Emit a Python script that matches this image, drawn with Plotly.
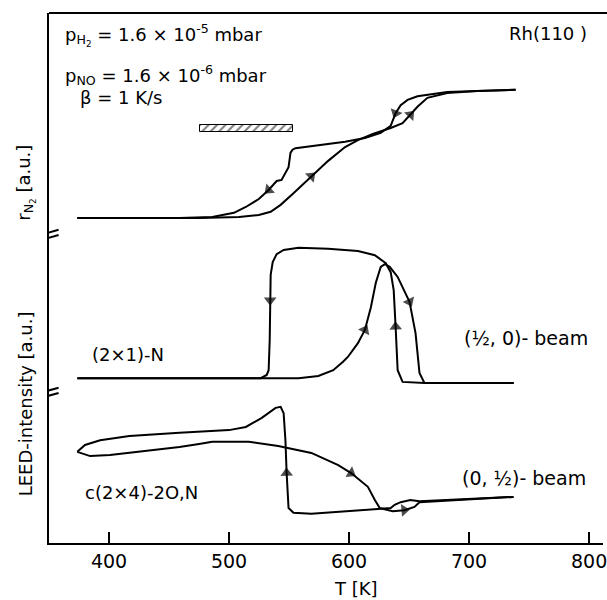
import plotly.graph_objects as go

# ---------------- data (T in K, signal in arbitrary units with offsets) ----------------
# r_N2 (N2 production rate), heating branch
TOP_HEAT_T = [373.6, 475.2, 508.3, 524.8, 534.7, 543.0, 553.7, 568.6, 582.6, 596.7, 607.4,
              619.8, 634.7, 644.6, 651.2, 657.0, 665.3, 681.8, 706.6, 738.8]
TOP_HEAT_V = [61.3, 61.3, 61.5, 61.9, 62.5, 63.8, 66.0, 69.2, 72.1, 74.7, 76.0,
              77.2, 78.3, 79.2, 80.8, 82.3, 84.0, 84.9, 85.3, 85.5]
# r_N2, cooling branch
TOP_COOL_T = [373.6, 458.7, 486.0, 504.1, 514.0, 524.8, 533.0, 539.7, 543.8, 549.6, 551.2,
              552.9, 555.4, 562.0, 582.6, 596.7, 613.2, 626.4, 634.7, 638.8, 643.0, 648.8,
              657.0, 669.4, 681.8, 706.6, 738.8]
TOP_COOL_V = [61.3, 61.3, 61.5, 62.3, 63.4, 64.9, 66.6, 68.3, 68.5, 70.9, 73.6,
              74.2, 74.5, 74.7, 75.3, 75.7, 76.4, 77.4, 78.7, 81.1, 82.6, 83.6,
              84.3, 84.7, 85.1, 85.3, 85.5]

# LEED (1/2,0) beam, (2x1)-N, heating branch
MID_HEAT_T = [373.6, 557.9, 574.4, 586.8, 595.0, 599.0, 607.4, 613.2, 618.2, 622.3, 626.4,
              629.8, 633.9, 640.5, 650.4, 655.4, 658.7, 662.8, 737.2]
MID_HEAT_V = [31.1, 31.1, 31.5, 32.6, 34.2, 35.1, 37.7, 40.2, 44.5, 49.1, 52.1,
              52.6, 52.1, 50.2, 45.5, 39.6, 32.1, 30.2, 30.2]
# (1/2,0) beam, cooling branch
MID_COOL_T = [373.6, 526.4, 531.4, 533.0, 533.9, 534.3, 534.7, 536.4, 539.7, 545.5, 557.9,
              582.6, 599.0, 607.4, 621.5, 630.6, 634.7, 637.2, 638.8, 640.5, 644.6, 662.8, 737.2]
MID_COOL_V = [31.1, 31.1, 31.7, 32.6, 38.3, 45.8, 50.6, 53.0, 54.5, 55.3, 55.7,
              55.5, 55.3, 55.1, 54.3, 52.8, 51.1, 47.7, 40.8, 32.6, 30.4, 30.2, 30.2]

# LEED (0,1/2) beam, c(2x4)-2O,N, heating branch
BOT_HEAT_T = [373.6, 384.3, 400.8, 434.0, 458.7, 475.0, 486.0, 516.5, 541.0, 568.6, 591.0,
              601.7, 615.7, 621.5, 625.6, 636.4, 646.0, 654.5, 658.7, 737.0]
BOT_HEAT_V = [17.2, 16.4, 16.6, 17.4, 18.1, 18.7, 19.1, 19.1, 18.3, 17.0, 14.7,
              13.2, 10.6, 8.1, 6.6, 6.0, 6.2, 6.8, 7.7, 8.7]
# (0,1/2) beam, cooling branch
BOT_COOL_T = [373.6, 380.0, 392.6, 417.0, 458.7, 500.0, 514.0, 527.3, 538.8, 543.0, 545.5,
              547.0, 548.0, 549.6, 553.7, 568.6, 624.0, 634.7, 638.0, 643.0, 651.0, 658.7, 737.0]
BOT_COOL_V = [17.2, 18.5, 19.4, 20.2, 20.8, 21.3, 21.9, 23.6, 25.5, 25.7, 24.5,
              19.4, 13.2, 6.6, 5.7, 5.5, 6.4, 6.6, 7.2, 7.7, 8.1, 7.9, 8.7]

# arrow positions (temperatures of points carrying an arrow head)
TOP_HEAT_ARROWS = [568.6, 651.2]
TOP_COOL_ARROWS = [533.0, 638.8]
MID_HEAT_ARROWS = [613.2, 650.4]
MID_COOL_ARROWS = [534.3, 638.8]
BOT_HEAT_ARROWS = [601.7, 646.0]
BOT_COOL_ARROWS = [548.0]

# hatched bar (temperature interval)
BAR_T_START = 476.0
BAR_T_END = 553.7
BAR_LEVEL = 78.2

X_TICKS = [400, 500, 600, 700, 800]

FONT = "DejaVu Sans"

fig = go.Figure()


def branch(T, V, arrows, heating):
    sizes = [11 if any(abs(t - a) < 0.05 for a in arrows) else 0 for t in T]
    fig.add_trace(go.Scatter(
        x=T, y=V, mode="lines+markers",
        line=dict(color="black", width=2),
        marker=dict(size=sizes, color="black",
                    symbol="triangle-up" if heating else "triangle-down",
                    angleref="previous", line=dict(width=0)),
        showlegend=False, hoverinfo="skip"))


branch(TOP_HEAT_T, TOP_HEAT_V, TOP_HEAT_ARROWS, True)
branch(TOP_COOL_T, TOP_COOL_V, TOP_COOL_ARROWS, False)
branch(MID_HEAT_T, MID_HEAT_V, MID_HEAT_ARROWS, True)
branch(MID_COOL_T, MID_COOL_V, MID_COOL_ARROWS, False)
branch(BOT_HEAT_T, BOT_HEAT_V, BOT_HEAT_ARROWS, True)
branch(BOT_COOL_T, BOT_COOL_V, BOT_COOL_ARROWS, False)

# hatched bar
fig.add_trace(go.Bar(
    x=[BAR_T_END - BAR_T_START], base=[BAR_T_START], y=[BAR_LEVEL], width=[1.3],
    orientation="h",
    marker=dict(color="white", line=dict(color="black", width=1),
                pattern=dict(shape="/", fgcolor="black", bgcolor="white", size=6, solidity=0.35)),
    showlegend=False, hoverinfo="skip"))

# axis break marks on the left axis
for yb in [57.6, 27.8]:
    for d in [0.0, 1.0]:
        fig.add_shape(type="line", xref="x", yref="y",
                      x0=342, x1=358, y0=yb - 0.5 + d, y1=yb + 0.5 + d,
                      line=dict(color="black", width=2))

# top frame line
fig.add_shape(type="line", xref="paper", yref="paper", x0=0, x1=1.05, y0=1, y1=1,
              line=dict(color="black", width=2))

ann = dict(showarrow=False)
texts = [
    (361.6, 95.8, "p<sub>H<sub>2</sub></sub> = 1.6 × 10<sup>-5</sup> mbar", 18),
    (361.6, 88.3, "p<sub>NO</sub> = 1.6 × 10<sup>-6</sup> mbar", 18),
    (374.0, 84.1, "β = 1 K/s", 18),
    (732.0, 96.2, "Rh(110 )", 18),
    (383.9, 35.5, "(2×1)-N", 18),
    (694.0, 38.7, "(½, 0)- beam", 19),
    (692.4, 12.3, "(0, ½)- beam", 19),
    (378.0, 9.6, "c(2×4)-2O,N", 18),
]
for x, y, t, fs in texts:
    fig.add_annotation(x=x, y=y, xref="x", yref="y", text=t, xanchor="left", yanchor="middle",
                       font=dict(family=FONT, size=fs, color="black"), **ann)

fig.add_annotation(x=-0.043, y=0.68, xref="paper", yref="paper", text="r<sub>N<sub>2</sub></sub> [a.u.]",
                   textangle=-90, xanchor="center", yanchor="middle",
                   font=dict(family=FONT, size=18, color="black"), **ann)
fig.add_annotation(x=-0.043, y=0.262, xref="paper", yref="paper", text="LEED-intensity [a.u.]",
                   textangle=-90, xanchor="center", yanchor="middle",
                   font=dict(family=FONT, size=18, color="black"), **ann)
fig.add_annotation(x=0.555, y=-0.085, xref="paper", yref="paper", text="T [K]",
                   xanchor="center", yanchor="middle",
                   font=dict(family=FONT, size=18, color="black"), **ann)

fig.update_layout(
    width=607, height=600,
    margin=dict(l=49, r=0, t=13, b=57),
    paper_bgcolor="white", plot_bgcolor="white",
    font=dict(family=FONT, size=18, color="black"),
    bargap=0,
    xaxis=dict(range=[350, 811.6], tickvals=X_TICKS, ticks="inside", ticklen=11,
               tickwidth=2, tickcolor="black", showline=True, linecolor="black", linewidth=2,
               showgrid=False, zeroline=False, tickfont=dict(family=FONT, size=19),
               ticklabeloverflow="allow"),
    yaxis=dict(range=[0, 100], showticklabels=False, ticks="", showline=True,
               linecolor="black", linewidth=2, showgrid=False, zeroline=False),
)

fig.write_html("out.html")
